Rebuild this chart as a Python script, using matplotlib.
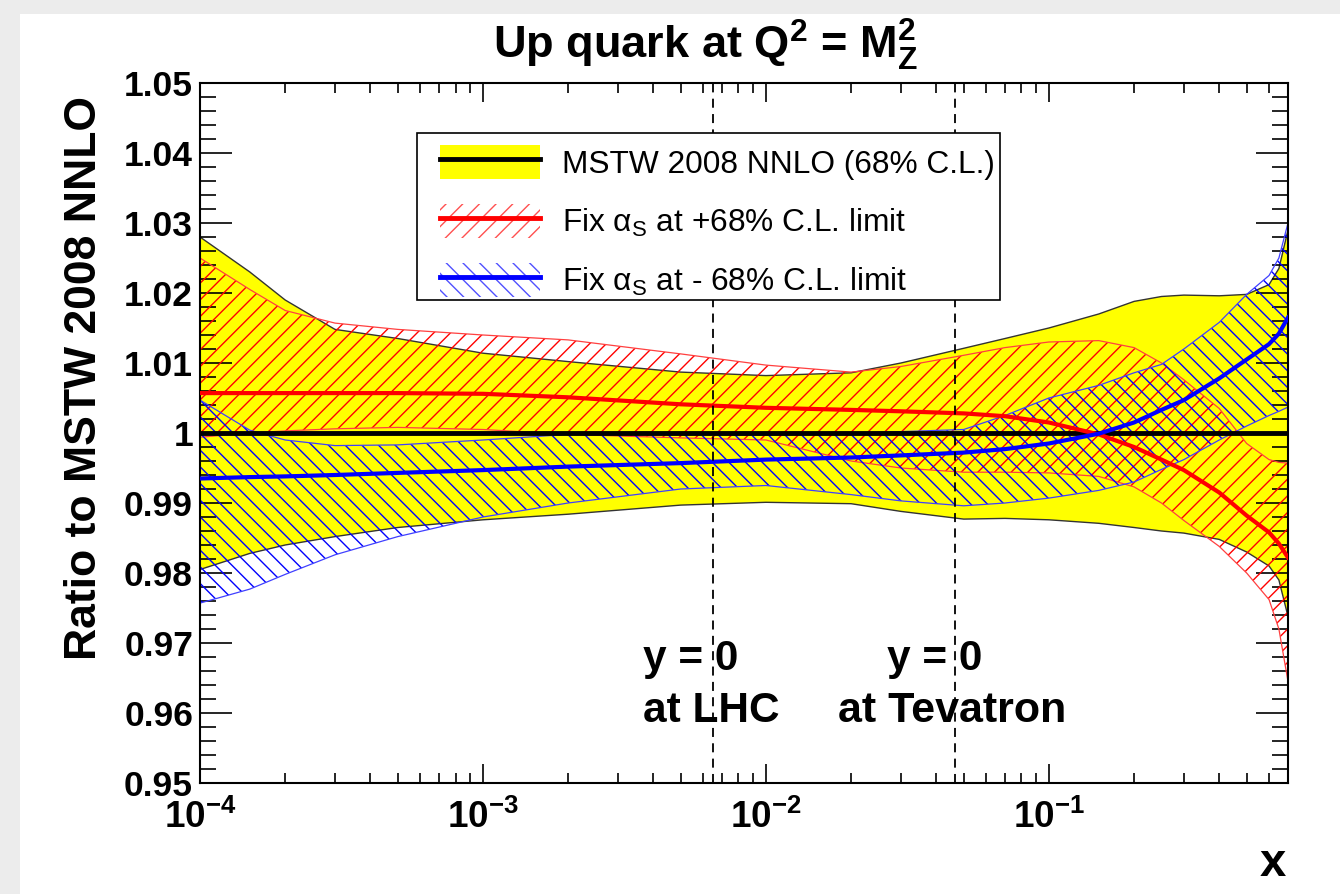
import numpy as np
import matplotlib
matplotlib.use("Agg")
import matplotlib.pyplot as plt
from matplotlib.patches import Patch, Rectangle
from matplotlib.lines import Line2D
from matplotlib.legend_handler import HandlerTuple
from matplotlib.ticker import LogLocator, LogFormatterMathtext, MultipleLocator

plt.rcParams['font.family'] = ['Liberation Sans', 'DejaVu Sans']
plt.rcParams['mathtext.fontset'] = 'custom'
plt.rcParams['mathtext.rm'] = 'Liberation Sans:bold'
plt.rcParams['mathtext.bf'] = 'Liberation Sans:bold'
plt.rcParams['mathtext.it'] = 'Liberation Sans:bold'
plt.rcParams['mathtext.default'] = 'bf'
plt.rcParams['hatch.linewidth'] = 1.0

# x values and ratio to MSTW 2008 NNLO for the up quark at Q^2 = M_Z^2
x = [1e-4, 1.5e-4, 2e-4, 3e-4, 5e-4, 1e-3, 2e-3, 5e-3, 1e-2, 2e-2, 3e-2, 5e-2,
     7e-2, 0.1, 0.15, 0.2, 0.25, 0.3, 0.4, 0.5, 0.6, 0.65, 0.7]

# MSTW 2008 NNLO 68% C.L. band (central = 1)
mstw_up = [1.0280, 1.0230, 1.0190, 1.0148, 1.0135, 1.0114, 1.0102, 1.0087, 1.0082, 1.0086, 1.0100, 1.0121,
           1.0135, 1.0150, 1.0170, 1.0188, 1.0195, 1.0197, 1.0196, 1.0198, 1.0212, 1.0235, 1.0290]
mstw_lo = [0.9805, 0.9828, 0.9840, 0.9852, 0.9865, 0.9876, 0.9884, 0.9897, 0.9901, 0.9899, 0.9888, 0.9877,
           0.9878, 0.9876, 0.9871, 0.9865, 0.9860, 0.9857, 0.9848, 0.9830, 0.9810, 0.9790, 0.9738]

# alpha_S fixed at +68% C.L. limit
plus_c = [1.0057, 1.0057, 1.0057, 1.0057, 1.0057, 1.0056, 1.0051, 1.0041, 1.0036, 1.0033, 1.0031, 1.0028,
          1.0024, 1.0015, 0.9998, 0.9980, 0.9962, 0.9947, 0.9915, 0.9882, 0.9858, 0.9842, 0.9822]
plus_up = [1.0250, 1.0205, 1.0175, 1.0157, 1.0148, 1.0140, 1.0133, 1.0113, 1.0097, 1.0087, 1.0095, 1.0111,
           1.0122, 1.0130, 1.0132, 1.0122, 1.0100, 1.0076, 1.0035, 0.9985, 0.9962, 0.9958, 0.9957]
plus_lo = [0.9994, 1.0000, 1.0003, 1.0006, 1.0008, 1.0005, 0.9998, 0.9993, 0.9990, 0.9960, 0.9950, 0.9944,
           0.9944, 0.9943, 0.9938, 0.9923, 0.9900, 0.9875, 0.9838, 0.9800, 0.9762, 0.9720, 0.9645]

# alpha_S fixed at -68% C.L. limit
minus_c = [0.9935, 0.9937, 0.9938, 0.9940, 0.9943, 0.9947, 0.9952, 0.9957, 0.9962, 0.9965, 0.9968, 0.9972,
           0.9977, 0.9985, 0.9999, 1.0015, 1.0033, 1.0047, 1.0078, 1.0105, 1.0127, 1.0142, 1.0165]
minus_up = [1.0047, 1.0004, 0.9990, 0.9982, 0.9983, 0.9990, 0.9998, 0.9998, 0.9997, 1.0000, 1.0002, 1.0005,
            1.0025, 1.0050, 1.0068, 1.0086, 1.0098, 1.0120, 1.0158, 1.0198, 1.0225, 1.0250, 1.0300]
minus_lo = [0.9757, 0.9777, 0.9798, 0.9826, 0.9852, 0.9880, 0.9900, 0.9920, 0.9925, 0.9912, 0.9903, 0.9896,
            0.9900, 0.9907, 0.9918, 0.9930, 0.9948, 0.9962, 0.9990, 1.0010, 1.0025, 1.0031, 1.0037]

x_lhc = 91.1876 / 14000.0
x_tev = 91.1876 / 1960.0

fig = plt.figure(figsize=(13.4, 8.94), dpi=100)
fig.patch.set_facecolor('white')
# grey margin strips
fig.patches.append(Rectangle((0, 0), 20 / 1340, 1, transform=fig.transFigure,
                             facecolor='#ececec', edgecolor='none', zorder=-10))
fig.patches.append(Rectangle((0, 1 - 14 / 894), 1, 14 / 894, transform=fig.transFigure,
                             facecolor='#ececec', edgecolor='none', zorder=-10))

ax = fig.add_axes([200 / 1340, 111 / 894, 1088 / 1340, 700 / 894])

ax.fill_between(x, mstw_lo, mstw_up, facecolor='yellow', edgecolor='none', zorder=1)
ax.plot(x, mstw_up, color='#333333', lw=1.0, zorder=1.5)
ax.plot(x, mstw_lo, color='#333333', lw=1.0, zorder=1.5)

ax.fill_between(x, plus_lo, plus_up, facecolor='none', edgecolor='red', hatch='//', lw=0, zorder=2)
ax.plot(x, plus_up, color='#ff4040', lw=0.9, zorder=2)
ax.plot(x, plus_lo, color='#ff4040', lw=0.9, zorder=2)

ax.fill_between(x, minus_lo, minus_up, facecolor='none', edgecolor='blue', hatch='\\\\', lw=0, zorder=2)
ax.plot(x, minus_up, color='#4040ff', lw=0.9, zorder=2)
ax.plot(x, minus_lo, color='#4040ff', lw=0.9, zorder=2)

ax.plot([x[0], x[-1]], [1, 1], color='black', lw=3.5, zorder=3)
ax.plot(x, plus_c, color='red', lw=3, zorder=4)
ax.plot(x, minus_c, color='blue', lw=3, zorder=4)

for xv in (x_lhc, x_tev):
    ax.axvline(xv, color='black', lw=1.3, ls=(0, (5, 3.5)), zorder=5)

ax.set_xscale('log')
ax.set_xlim(1e-4, 0.7)
ax.set_ylim(0.95, 1.05)

ax.xaxis.set_major_locator(LogLocator(base=10))
ax.xaxis.set_minor_locator(LogLocator(base=10, subs=np.arange(2, 10)))
ax.xaxis.set_major_formatter(LogFormatterMathtext())
ax.xaxis.set_minor_formatter(plt.NullFormatter())
ax.yaxis.set_major_locator(MultipleLocator(0.01))
ax.yaxis.set_minor_locator(MultipleLocator(0.002))
ax.yaxis.set_major_formatter(plt.FuncFormatter(lambda v, p: ('%.2f' % v).rstrip('0').rstrip('.')))

ax.tick_params(axis='both', which='both', direction='in', top=True, right=True, width=1.2)
ax.tick_params(axis='x', which='major', length=14, pad=12, labelsize=26.5)
ax.tick_params(axis='x', which='minor', length=7)
ax.tick_params(axis='y', which='major', length=23, pad=5, labelsize=25.5)
ax.tick_params(axis='y', which='minor', length=11.5)
for lab in ax.get_yticklabels() + ax.get_xticklabels():
    lab.set_fontweight('bold')
for s in ax.spines.values():
    s.set_linewidth(1.5)

fig.text(705 / 1340, 1 - 45 / 894, r'Up quark at Q$^{2}$ = M$^{2}_{Z}$',
         ha='center', va='center', fontsize=32.5, fontweight='bold')
fig.text(85 / 1340, 1 - 378 / 894, 'Ratio to MSTW 2008 NNLO', rotation=90,
         ha='center', va='center', fontsize=32, fontweight='bold')
fig.text(1286 / 1340, 1 - 864 / 894, 'x', ha='right', va='center', fontsize=34, fontweight='bold')

fig.text(643 / 1340, 1 - 659 / 894, 'y = 0', ha='left', va='center', fontsize=30.5, fontweight='bold')
fig.text(643 / 1340, 1 - 711 / 894, 'at LHC', ha='left', va='center', fontsize=30.5, fontweight='bold')
fig.text(887 / 1340, 1 - 659 / 894, 'y = 0', ha='left', va='center', fontsize=30.5, fontweight='bold')
fig.text(838 / 1340, 1 - 711 / 894, 'at Tevatron', ha='left', va='center', fontsize=31, fontweight='bold')

# legend box drawn separately so the entries can sit with their own padding
frame = Rectangle((417 / 1340, 1 - 300 / 894), 583 / 1340, 167 / 894, transform=fig.transFigure,
                  facecolor='white', edgecolor='black', lw=1.2, zorder=9, clip_on=False)
ax.add_artist(frame)

h_mstw = (Patch(facecolor='yellow', edgecolor='none'), Line2D([], [], color='black', lw=3.5))
h_plus = (Patch(facecolor='none', edgecolor='#ff5050', hatch='//', lw=0), Line2D([], [], color='red', lw=3.5))
h_minus = (Patch(facecolor='none', edgecolor='#5050ff', hatch='\\\\', lw=0), Line2D([], [], color='blue', lw=3.5))
labels = ['MSTW 2008 NNLO (68% C.L.)',
          r'Fix $\mathregular{\alpha_{S}}$ at +68% C.L. limit',
          r'Fix $\mathregular{\alpha_{S}}$ at - 68% C.L. limit']
leg = ax.legend([h_mstw, h_plus, h_minus], labels,
                handler_map={tuple: HandlerTuple(ndivide=1, pad=0)},
                loc='upper left', bbox_to_anchor=(440 / 1340, 1 - 145 / 894),
                bbox_transform=fig.transFigure, borderaxespad=0, borderpad=0,
                fontsize=22.75, handlelength=3.15, handleheight=1.3, handletextpad=0.72,
                labelspacing=0.76, frameon=False)
leg.set_zorder(10)

fig.savefig('out.png', dpi=100)
